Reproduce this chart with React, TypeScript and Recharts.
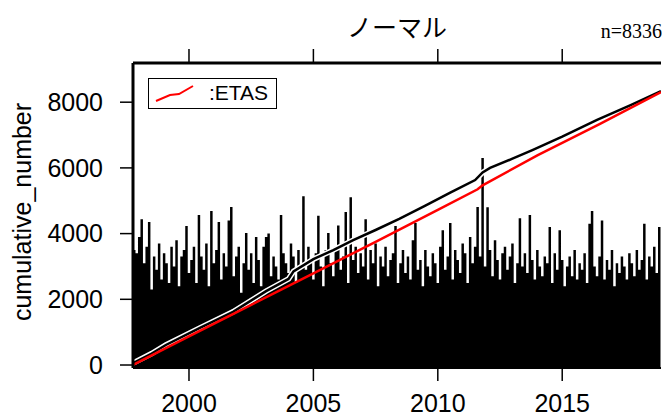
import { Area, ComposedChart, Line, XAxis, YAxis } from 'recharts';

// event-count spikes, one value every 0.1 year from 1997.75
const spikeStart = 1997.75;
const spikeStep = 0.1;
const spikeValues = [
  3500, 3400, 3900, 4440, 3100, 3600, 4350, 2300, 3300, 2900,
  3700, 2600, 3400, 3100, 2500, 3600, 3000, 3800, 2400, 3300,
  3500, 4230, 2800, 3200, 3600, 2500, 4570, 3300, 2900, 3700,
  2400, 4690, 3100, 3500, 4350, 2600, 3400, 3000, 4400, 4810,
  2700, 3300, 3600, 2200, 3100, 4020, 2900, 3400, 2500, 3900,
  3200, 2400, 3600, 3900, 4000, 2700, 3300, 3000, 2600, 4570,
  3400, 3100, 2800, 3700, 3300, 2500, 3500, 3000, 5140, 2900,
  3600, 3200, 2600, 3400, 4540, 3000, 2400, 3500, 4020, 3100,
  2700, 3600, 4250, 2900, 3300, 4660, 2500, 5110, 3200, 3600,
  2800, 3400, 3000, 4440, 2600, 3500, 3100, 3700, 2400, 3300,
  3000, 3600, 2700, 3200, 3400, 4230, 2500, 3100, 3500, 2800,
  3300, 2600, 3800, 4320, 2900, 3200, 2400, 3500, 3000, 2700,
  3400, 3100, 2500, 3600, 4100, 2900, 3300, 4320, 2600, 3500,
  3200, 2800, 3700, 3400, 2500, 3900, 3100, 3600, 4810, 3300,
  6300, 3000, 4800, 3500, 2700, 3800, 3200, 2600, 3400, 3600,
  2900, 3300, 3700, 2500, 3100, 4470, 3000, 3400, 2800, 4570,
  3200, 2600, 3500, 3000, 2700, 3300, 3100, 4200, 2500, 3400,
  2900, 4100, 3200, 2400, 3000, 3300, 2700, 3500, 2600, 3100,
  2900, 3400, 2500, 4300, 4690, 3000, 2700, 3300, 4400, 2600,
  3200, 2900, 3500, 2400, 3100, 2800, 3300, 3000, 2600, 3400,
  3100, 2700, 3500, 2900, 3200, 4300, 2600, 3300, 3000, 3600,
  2800, 4200, 3400,
];

// observed cumulative number
const obsYears = [1997.75, 1998.5, 1999.07, 2000.44, 2001.77, 2003.1, 2004.0, 2004.2, 2005.0, 2005.8, 2006.6, 2007.5, 2008.45, 2009.5, 2010.5, 2011.5, 2011.8, 2012.1, 2013.0, 2013.8, 2015.0, 2016.4, 2017.75, 2018.97];
const obsValues = [60, 350, 610, 1130, 1620, 2250, 2620, 2850, 3220, 3500, 3800, 4110, 4450, 4850, 5250, 5630, 5860, 6000, 6280, 6540, 6950, 7460, 7910, 8336];

// ETAS model
const etasYears = [1997.75, 2000, 2002.5, 2005, 2007.5, 2010, 2011.6, 2011.8, 2014, 2016.5, 2018.97];
const etasValues = [0, 870, 1830, 2790, 3750, 4720, 5350, 5470, 6380, 7330, 8310];

const xTicks = [2000, 2005, 2010, 2015];
const yTicks = [0, 2000, 4000, 6000, 8000];

const spikeData = spikeValues.map((v, i) => ({ t: spikeStart + i * spikeStep, v }));
const obsData = obsYears.map((t, i) => ({ t, v: obsValues[i] }));
const etasData = etasYears.map((t, i) => ({ t, v: etasValues[i] }));

const FONT = '"Liberation Sans", Arial, sans-serif';

function EtasLegend() {
  return (
    <div style={{ position: 'absolute', left: 148, top: 78, width: 129, height: 31, border: '1.5px solid black', boxSizing: 'border-box', background: 'white' }}>
      <svg width={60} height={30} style={{ position: 'absolute', left: 0, top: 0 }}>
        <polyline points="7,22 21,16 30,15 44,7" fill="none" stroke="red" strokeWidth={2} />
      </svg>
      <span style={{ position: 'absolute', left: 60, top: 2, fontFamily: FONT, fontSize: 21, color: 'black' }}>:ETAS</span>
    </div>
  );
}

export default function App() {
  return (
    <div style={{ position: 'absolute', left: 0, top: 0, width: 662, height: 417, overflow: 'hidden', background: 'white' }}>
      <div style={{ position: 'absolute', left: 347, top: 8, fontFamily: '"Noto Sans CJK JP", sans-serif', fontSize: 25, color: 'black' }}>ノーマル</div>
      <div style={{ position: 'absolute', right: 0, top: 20, fontFamily: '"Liberation Serif", serif', fontSize: 20, color: 'black' }}>n=8336</div>
      <ComposedChart width={662} height={417} margin={{ top: 0, right: 1, bottom: 0, left: 0 }}>
        <XAxis
          xAxisId="top"
          orientation="top"
          dataKey="t"
          type="number"
          domain={[1997.75, 2018.97]}
          allowDataOverflow
          ticks={xTicks}
          height={63}
          tickSize={14}
          tickFormatter={() => ''}
          axisLine={{ stroke: 'black', strokeWidth: 3 }}
          tickLine={{ stroke: 'black', strokeWidth: 1.5 }}
        />
        <XAxis
          dataKey="t"
          type="number"
          domain={[1997.75, 2018.97]}
          allowDataOverflow
          ticks={xTicks}
          height={49}
          tickSize={13}
          tickMargin={13}
          axisLine={{ stroke: 'black', strokeWidth: 2 }}
          tickLine={{ stroke: 'black', strokeWidth: 1.5 }}
          tick={{ fill: 'black', fontSize: 25, fontFamily: FONT }}
        />
        <YAxis
          type="number"
          domain={[-91, 9193]}
          allowDataOverflow
          ticks={yTicks}
          width={133}
          tickSize={13}
          tickMargin={17}
          axisLine={{ stroke: 'black', strokeWidth: 3 }}
          tickLine={{ stroke: 'black', strokeWidth: 1.5 }}
          tick={{ fill: 'black', fontSize: 25, fontFamily: FONT }}
          label={{
            content: () => (
              <text x={22} y={212} transform="rotate(-90, 22, 212)" textAnchor="middle" dominantBaseline="central" fontSize={25} fontFamily={FONT} fill="black">
                cumulative_number
              </text>
            ),
          }}
        />
        <Area
          data={spikeData}
          dataKey="v"
          type="stepAfter"
          stroke="none"
          fill="black"
          fillOpacity={1}
          baseValue="dataMin"
          isAnimationActive={false}
        />
        <Line xAxisId="top" data={obsData} dataKey="v" stroke="white" strokeWidth={5.5} dot={false} isAnimationActive={false} />
        <Line data={obsData} dataKey="v" stroke="black" strokeWidth={2.5} dot={false} isAnimationActive={false} />
        <Line data={etasData} dataKey="v" stroke="red" strokeWidth={2.5} dot={false} isAnimationActive={false} />
      </ComposedChart>
      <EtasLegend />
    </div>
  );
}
